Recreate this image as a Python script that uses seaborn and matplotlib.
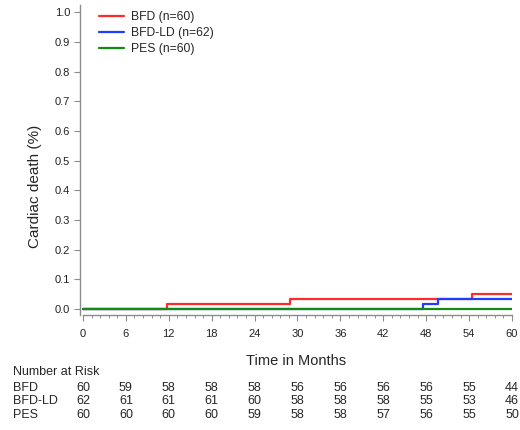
import numpy as np
import pandas as pd
import matplotlib
matplotlib.use("Agg")
import matplotlib.pyplot as plt
import matplotlib.transforms as mtransforms
import seaborn as sns

# Kaplan-Meier style cumulative cardiac death
bfd_time = [0, 11.7, 29.0, 54.4, 60]
bfd_death = [0, 0.0167, 0.0337, 0.052, 0.052]
bfdld_time = [0, 47.6, 49.6, 60]
bfdld_death = [0, 0.0161, 0.0335, 0.0335]
pes_time = [0, 60]
pes_death = [0, 0]

group_labels = ["BFD (n=60)", "BFD-LD (n=62)", "PES (n=60)"]
group_colors = ["#ff2a2a", "#1f3dff", "#138a13"]

# Number at risk table
risk_months = [0, 6, 12, 18, 24, 30, 36, 42, 48, 54, 60]
risk_names = ["BFD", "BFD-LD", "PES"]
risk_bfd = [60, 59, 58, 58, 58, 56, 56, 56, 56, 55, 44]
risk_bfdld = [62, 61, 61, 61, 60, 58, 58, 58, 55, 53, 46]
risk_pes = [60, 60, 60, 60, 59, 58, 58, 57, 56, 55, 50]

sns.set_theme(style="white")
plt.rcParams["font.family"] = ["Liberation Sans", "DejaVu Sans"]

df = pd.concat([
    pd.DataFrame({"time": bfd_time, "death": bfd_death, "group": group_labels[0]}),
    pd.DataFrame({"time": bfdld_time, "death": bfdld_death, "group": group_labels[1]}),
    pd.DataFrame({"time": pes_time, "death": pes_death, "group": group_labels[2]}),
], ignore_index=True)

fig = plt.figure(figsize=(5.2, 4.3), dpi=100)
ax = fig.add_axes([0.1538, 0.2674, 0.8308, 0.721])

sns.lineplot(data=df, x="time", y="death", hue="group", hue_order=group_labels,
             palette=group_colors, drawstyle="steps-post", estimator=None,
             sort=False, linewidth=1.6, ax=ax)

ax.set_xlim(-0.42, 60)
ax.set_ylim(-0.02, 1.025)
ax.set_xticks(risk_months)
ax.set_xticks(np.arange(0, 60.01, 1.2), minor=True)
ax.set_yticks(np.arange(0, 1.01, 0.1))
ax.set_yticklabels([f"{v:.1f}" for v in np.arange(0, 1.01, 0.1)])

grey = "#8c8c8c"
for side in ["top", "right"]:
    ax.spines[side].set_visible(False)
for side in ["left", "bottom"]:
    ax.spines[side].set_color(grey)
    ax.spines[side].set_linewidth(1.0)
ax.spines["bottom"].set_bounds(0, 60)
ax.tick_params(axis="both", which="major", direction="out", length=4, width=0.8,
               color=grey, labelsize=8, labelcolor="#222222", pad=3,
               bottom=True, left=True)
ax.tick_params(axis="x", which="minor", direction="out", length=2.5, width=0.7,
               color=grey, bottom=True)
ax.tick_params(axis="x", pad=6)

ax.set_xlabel("Time in Months", fontsize=10.5, labelpad=11)
ax.set_ylabel("Cardiac death (%)", fontsize=11)
ax.yaxis.set_label_coords(-0.088, 0.416)

leg = ax.legend(loc="upper left", bbox_to_anchor=(0.02, 1.015), frameon=False,
                fontsize=8.7, handlelength=2.0, handletextpad=0.6,
                labelspacing=0.33)

# Number at risk
trans = mtransforms.blended_transform_factory(ax.transData, fig.transFigure)
fig.text(13 / 520, 1 - 372 / 430, "Number at Risk", fontsize=9, va="center", ha="left")
row_y = [1 - 388 / 430, 1 - 401 / 430, 1 - 415 / 430]
for name, counts, y in zip(risk_names, [risk_bfd, risk_bfdld, risk_pes], row_y):
    fig.text(13 / 520, y, name, fontsize=9, va="center", ha="left")
    for m, c in zip(risk_months, counts):
        ax.text(m, y, str(c), transform=trans, fontsize=9, va="center",
                ha="center", clip_on=False)

fig.savefig("out.png", dpi=100)
